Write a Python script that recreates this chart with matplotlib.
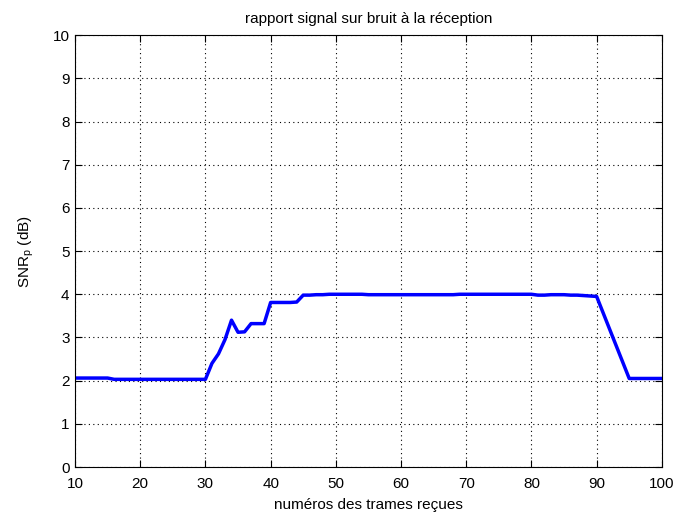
import numpy as np
import matplotlib
matplotlib.use("Agg")
import matplotlib.pyplot as plt

frames = list(range(10, 101))
snr_db = (
    [2.06, 2.06, 2.06, 2.06, 2.06, 2.06]                     # 10-15
    + [2.03] * 15                                            # 16-30
    + [2.40, 2.62, 2.95, 3.40, 3.12, 3.13, 3.32, 3.32, 3.32]  # 31-39
    + [3.81, 3.81, 3.81, 3.81, 3.82]                          # 40-44
    + [3.98, 3.98, 3.99, 3.99, 4.00, 4.00, 4.00, 4.00, 4.00, 4.00]  # 45-54
    + [3.99, 3.99, 3.99, 3.99, 3.99, 3.99, 3.99, 3.99, 3.99, 3.99]  # 55-64
    + [3.99, 3.99, 3.99, 3.99, 4.00, 4.00, 4.00, 4.00, 4.00, 4.00]  # 65-74
    + [4.00, 4.00, 4.00, 4.00, 4.00, 4.00, 3.98, 3.98, 3.99, 3.99]  # 75-84
    + [3.99, 3.98, 3.98, 3.97, 3.96, 3.95]                          # 85-90
    + [3.57, 3.19, 2.81, 2.43, 2.05]                                # 91-95
    + [2.05, 2.05, 2.05, 2.05, 2.05]                                # 96-100
)

xticks = list(range(10, 101, 10))
yticks = list(range(0, 11))

plt.rcParams['font.family'] = ['Liberation Sans', 'DejaVu Sans']
fig = plt.figure(figsize=(6.76, 5.17), dpi=100)
ax = fig.add_axes([0.111, 0.0967, 0.868, 0.8353])
ax.plot(frames, snr_db, color=(0, 0, 1), lw=2.5)
ax.set_xlim(10, 100)
ax.set_ylim(0, 10)
ax.set_xticks(xticks)
ax.set_yticks(yticks)
ax.grid(True, color='black', linestyle=(0, (1, 3)), linewidth=0.8)
ax.tick_params(direction='in', length=5, labelsize=11, top=True, right=True,
               labeltop=False, labelright=False, width=0.8)
ax.tick_params(axis='x', pad=7)
ax.tick_params(axis='y', pad=4)
for s in ax.spines.values():
    s.set_linewidth(0.8)
ax.set_title('rapport signal sur bruit à la réception', fontsize=11, pad=9)
ax.set_xlabel('numéros des trames reçues', fontsize=11, labelpad=5)
ax.set_ylabel('SNR$_\\mathregular{p}$ (dB)', fontsize=11, labelpad=12)
fig.savefig('out.png', dpi=100)
